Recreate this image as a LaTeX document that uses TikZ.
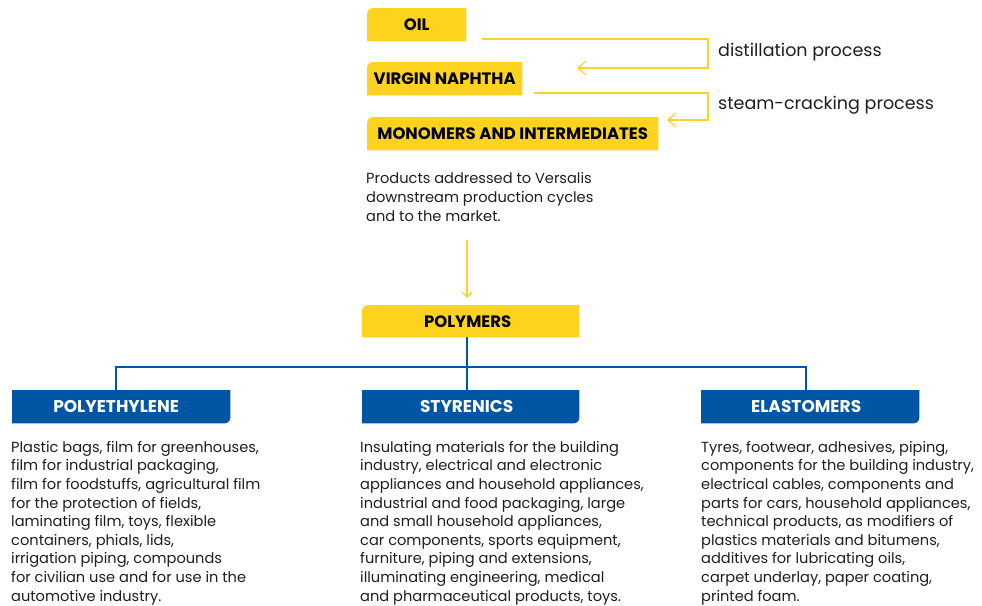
\documentclass[tikz,border=0pt]{standalone}
\usepackage{fontspec}
\setmainfont{Poppins}
\usetikzlibrary{arrows.meta}
\definecolor{vyellow}{HTML}{FDD31F}
\definecolor{vline}{HTML}{FCD22A}
\definecolor{vblue}{HTML}{0055A4}
\definecolor{vtext}{HTML}{1E1E1E}
\begin{document}
\begin{tikzpicture}[x=1pt,y=-1pt,
  ybox/.style={inner sep=0pt,anchor=north west,font=\fontsize{16.5}{18}\selectfont\bfseries,text=black},
  bbox/.style={inner sep=0pt,anchor=north west,font=\fontsize{17}{18}\selectfont\bfseries,text=white},
  body/.style={inner sep=0pt,anchor=north west,align=left,text=vtext,font=\fontsize{14.6}{18.6}\selectfont},
  proc/.style={inner sep=0pt,anchor=west,text=vtext,font=\fontsize{17.5}{20}\selectfont},
  yconn/.style={draw=vline,line width=1.2pt},
  yarrow/.style={yconn,-{Straight Barb[length=8pt,width=14pt]}},
  sarrow/.style={yconn,-{Straight Barb[length=5pt,width=10pt]}},
  bconn/.style={draw=vblue,line width=1.3pt}]
\useasboundingbox (0,0) rectangle (982,605);
\newcommand{\yfill}[1]{\fill[vyellow] (#1.south west) -- ([yshift=-6pt]#1.north west) arc[start angle=180,end angle=90,radius=6pt] -- (#1.north east) -- (#1.south east) -- cycle;}
\newcommand{\bfillbox}[1]{\fill[vblue] (#1.south west) -- (#1.north west) -- (#1.north east) -- ([yshift=6pt]#1.south east) arc[start angle=0,end angle=-90,radius=6pt] -- cycle;}
% yellow boxes
\path (367,8) node[ybox,minimum width=99pt,minimum height=33pt] (oil) {};
\path (367,62) node[ybox,minimum width=155pt,minimum height=33pt] (vn) {};
\path (367,117) node[ybox,minimum width=291pt,minimum height=33pt] (mono) {};
\path (362,305) node[ybox,minimum width=217pt,minimum height=32pt] (poly) {};
\yfill{oil}\yfill{vn}\yfill{mono}\yfill{poly}
\node[ybox,anchor=center] (oilt) at (oil.center) {OIL};
\node[ybox,anchor=center] (vnt) at (vn.center) {VIRGIN NAPHTHA};
\node[ybox,anchor=center] (monot) at (mono.center) {MONOMERS AND INTERMEDIATES};
\node[ybox,anchor=center] (polyt) at ([xshift=-3pt]poly.center) {POLYMERS};
% blue boxes
\path (12,390) node[bbox,minimum width=218pt,minimum height=33pt] (pe) {};
\path (362,390) node[bbox,minimum width=217pt,minimum height=33pt] (sty) {};
\path (701,390) node[bbox,minimum width=218pt,minimum height=33pt] (ela) {};
\bfillbox{pe}\bfillbox{sty}\bfillbox{ela}
\node[bbox,anchor=center] (pet) at ([xshift=-5pt]pe.center) {POLYETHYLENE};
\node[bbox,anchor=center] (styt) at ([xshift=-4pt]sty.center) {STYRENICS};
\node[bbox,anchor=center] (elat) at ([xshift=-4pt]ela.center) {ELASTOMERS};
% process labels
\node[proc] (dist) at (718,52) {distillation process};
\node[proc] (steam) at (718,105) {steam-cracking process};
% yellow connectors
\coordinate (a1) at (482,39);
\coordinate (a2) at (577,68);
\coordinate (b1) at (534,93);
\coordinate (b2) at (667,120);
\draw[yarrow] (a1) -- (708,39) -- (708,68) -- (a2);
\draw[yarrow] (b1) -- (708,93) -- (708,120) -- (b2);
% products text
\node[body,font=\fontsize{14.6}{19}\selectfont] (prod) at (366,172) {Products addressed to Versalis\\downstream production cycles\\and to the market.};
\coordinate (c1) at (467,240);
\coordinate (c2) at (467,298);
\draw[sarrow] (c1) -- (c2);
% blue tree
\coordinate (p0) at (467,337);
\coordinate (t0) at (467,367);
\coordinate (t1) at (116,367);
\coordinate (t2) at (806,367);
\draw[bconn] (p0) -- (t0);
\draw[bconn] (t1 |- pe.north) -- (t1) -- (t2) -- (t2 |- ela.north);
\draw[bconn] (t0) -- (t0 |- sty.north);
% bodies
\node[body] (peb) at (11,441) {Plastic bags, film for greenhouses,\\film for industrial packaging,\\film for foodstuffs, agricultural film\\for the protection of fields,\\laminating film, toys, flexible\\containers, phials, lids,\\irrigation piping, compounds\\for civilian use and for use in the\\automotive industry.};
\node[body] (styb) at (360,441) {Insulating materials for the building\\industry, electrical and electronic\\appliances and household appliances,\\industrial and food packaging, large\\and small household appliances,\\car components, sports equipment,\\furniture, piping and extensions,\\illuminating engineering, medical\\and pharmaceutical products, toys.};
\node[body] (elab) at (701,441) {Tyres, footwear, adhesives, piping,\\components for the building industry,\\electrical cables, components and\\parts for cars, household appliances,\\technical products, as modifiers of\\plastics materials and bitumens,\\additives for lubricating oils,\\carpet underlay, paper coating,\\printed foam.};
\end{tikzpicture}
\end{document}
